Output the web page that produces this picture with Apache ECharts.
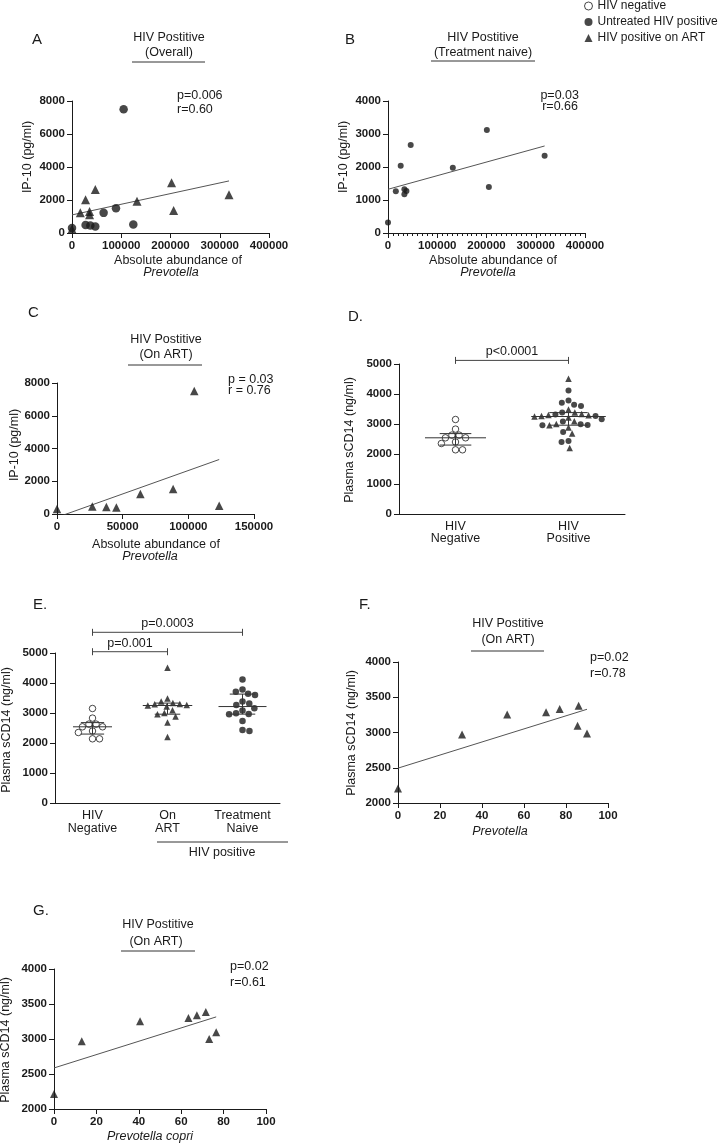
<!DOCTYPE html>
<html><head><meta charset="utf-8">
<script src="https://cdn.jsdelivr.net/npm/echarts@6/dist/echarts.min.js"></script>
<style>html,body{margin:0;padding:0;background:#fff}#c{width:722px;height:1146px}</style>
</head><body><div id="c"></div>
<script>
// ================= DATA =================
// Panel A – HIV positive overall (IP-10 vs Prevotella abundance)
const aUntreatedX = [0, 27600, 37200, 47300, 64200, 89300, 104800, 124500];
const aUntreatedY = [300, 490, 450, 390, 1220, 1500, 7500, 510];
const aArtX = [0, 16900, 27600, 35700, 35700, 47300, 132000, 202200, 206300, 318800];
const aArtY = [250, 1220, 2010, 1300, 1100, 2640, 1925, 3050, 1360, 2315];
// Panel B – treatment naive
const bNaiveX = [0, 15900, 25800, 33300, 33300, 37400, 46100, 131600, 200700, 204800, 318000];
const bNaiveY = [316, 1267, 2035, 1327, 1175, 1276, 2664, 1975, 3119, 1397, 2339];
// Panel C – on ART
const cArtX = [0, 26900, 37600, 45200, 63500, 88400, 104500, 123500];
const cArtY = [305, 464, 427, 403, 1221, 1527, 7511, 507];
// Panels D / E – plasma sCD14 (ng/ml)
const negSCD14 = [3150, 2830, 2630, 2630, 2540, 2540, 2400, 2350, 2140, 2140];
const artSCD14 = [4510, 3480, 3380, 3330, 3300, 3290, 3270, 3250, 3220, 3090, 3000, 2960, 2880, 2680, 2200];
const naiveSCD14 = [4120, 3780, 3710, 3640, 3600, 3380, 3320, 3270, 3160, 3080, 2990, 2970, 2960, 2730, 2430, 2400];
// Panel F – sCD14 vs Prevotella (on ART)
const fArtX = [0, 30.5, 52, 70.5, 77, 86, 85.5, 90];
const fArtY = [2205, 2973, 3257, 3286, 3333, 3380, 3095, 2987];
// Panel G – sCD14 vs Prevotella copri (on ART)
const gArtX = [0, 13.1, 40.6, 63.4, 67.4, 71.6, 73.2, 76.5];
const gArtY = [2214, 2969, 3254, 3300, 3339, 3386, 3001, 3097];
// Category / tick labels
const dCategories = ['HIV\nNegative', 'HIV\nPositive'];
const eCategories = ['HIV\nNegative', 'On\nART', 'Treatment\nNaive'];
const legendNames = ['HIV negative', 'Untreated HIV positive', 'HIV positive on ART'];
const dPValue = ['p<0.0001'];
const ePValues = ['p=0.001', 'p=0.0003'];

// ================= HELPERS =================
const FONT = '"Liberation Sans", Arial, Helvetica, sans-serif';
const INK = '#1a1a1a';
const zip = (xs, ys) => xs.map((x, i) => [x, ys[i]]);
function linreg(xs, ys) {
  const n = xs.length, mx = xs.reduce((a, b) => a + b) / n, my = ys.reduce((a, b) => a + b) / n;
  let sxy = 0, sxx = 0;
  xs.forEach((x, i) => { sxy += (x - mx) * (ys[i] - my); sxx += (x - mx) * (x - mx); });
  const b = sxy / sxx, a = my - b * mx;
  const x0 = Math.min(...xs), x1 = Math.max(...xs);
  return [[x0, a + b * x0], [x1, a + b * x1]];
}
// GraphPad-style quartiles (n+1 method)
function quant(vals, p) {
  const s = vals.slice().sort((a, b) => a - b), n = s.length;
  let pos = p * (n + 1);
  if (pos < 1) pos = 1; if (pos > n) pos = n;
  const lo = Math.floor(pos), f = pos - lo;
  return lo >= n ? s[n - 1] : s[lo - 1] + f * (s[lo] - s[lo - 1]);
}
// simple beeswarm: returns horizontal offsets in px
function swarm(values, pxPerUnit, size) {
  const order = values.map((v, i) => i).sort((a, b) => values[b] - values[a]);
  const placed = [], off = new Array(values.length).fill(0);
  let flip = 1;
  order.forEach(i => {
    const y = values[i] * pxPerUnit;
    const cands = [0];
    placed.forEach(p => {
      const dy = Math.abs(y - p.y);
      if (dy < size) { const dx = Math.sqrt(size * size - dy * dy); cands.push(p.x + dx, p.x - dx); }
    });
    cands.sort((a, b) => (Math.abs(a) - Math.abs(b)) || (a - b) * flip);
    let best = 0;
    for (const c of cands) {
      if (placed.every(p => (c - p.x) ** 2 + (y - p.y) ** 2 >= size * size - 0.01)) { best = c; break; }
    }
    if (best !== 0) flip = -flip;
    placed.push({ x: best, y }); off[i] = best;
  });
  return off;
}

// ================= LAYOUT =================
const grids = [
  { left: 72, top: 101, width: 197, height: 132 },   // A
  { left: 388, top: 101, width: 197, height: 132 },  // B
  { left: 57, top: 383, width: 197, height: 131 },   // C
  { left: 399, top: 364, width: 226, height: 150 },  // D
  { left: 55, top: 653, width: 225, height: 150 },   // E
  { left: 398, top: 662, width: 210, height: 141 },  // F
  { left: 54, top: 969, width: 212, height: 140 }    // G
].map(g => Object.assign({ outerBoundsMode: 'none', containLabel: false }, g));

const axLine = { show: true, onZero: false, lineStyle: { color: INK, width: 1 } };
const axTick = { show: true, length: 5, lineStyle: { color: INK, width: 1 } };
const axLabel = { color: INK, fontFamily: FONT, fontWeight: 'bold', fontSize: 11.5, margin: 7,
  formatter: v => String(v) };
function valAxis(gridIndex, min, max, interval, extra) {
  return Object.assign({
    type: 'value', gridIndex, min, max, interval, splitLine: { show: false },
    axisLine: axLine, axisTick: axTick, axisLabel: axLabel
  }, extra || {});
}

const xAxis = [
  valAxis(0, 0, 400000, 100000),
  valAxis(1, 0, 400000, 100000, { minorTick: { show: true, splitNumber: 10, length: 3, lineStyle: { color: INK } } }),
  valAxis(2, 0, 150000, 50000),
  { type: 'category', gridIndex: 3, data: dCategories, boundaryGap: true, axisLine: axLine, axisTick: { show: false },
    axisLabel: { color: INK, fontFamily: FONT, fontSize: 12.5, lineHeight: 12, margin: 7, interval: 0 } },
  { type: 'category', gridIndex: 4, data: eCategories, boundaryGap: true, axisLine: axLine, axisTick: { show: false },
    axisLabel: { color: INK, fontFamily: FONT, fontSize: 12.5, lineHeight: 13, margin: 6, interval: 0 } },
  valAxis(5, 0, 100, 20),
  valAxis(6, 0, 100, 20),
  { type: 'value', gridIndex: 3, min: -0.5, max: 1.5, show: false },
  { type: 'value', gridIndex: 4, min: -0.5, max: 2.5, show: false }
];
const yAxis = [
  valAxis(0, 0, 8000, 2000),
  valAxis(1, 0, 4000, 1000),
  valAxis(2, 0, 8000, 2000),
  valAxis(3, 0, 5000, 1000),
  valAxis(4, 0, 5000, 1000),
  valAxis(5, 2000, 4000, 500),
  valAxis(6, 2000, 4000, 500)
];

// ================= SERIES =================
const black = { color: INK };
const hollow = { color: '#fff', borderColor: INK, borderWidth: 1 };
function scatter(name, xi, yi, data, symbol, size, itemStyle) {
  return { type: 'scatter', name, xAxisIndex: xi, yAxisIndex: yi, data, symbol, symbolSize: size,
    itemStyle, silent: true, z: 3 };
}
function fitLine(xi, yi, pts) {
  return { type: 'line', xAxisIndex: xi, yAxisIndex: yi, data: pts, showSymbol: false, symbol: 'none',
    lineStyle: { color: '#555', width: 1 }, silent: true, clip: true, z: 2 };
}

// category swarm positions
const PX_PER_VAL = 150 / 5000;
function catPoints(values, cat, pxPerCat, offs) {
  return values.map((v, i) => [cat + offs[i] / pxPerCat, v]);
}
// D
const dNegOff = swarm(negSCD14, PX_PER_VAL, 7);
const dPosVals = artSCD14.concat(naiveSCD14);
const dPosOff = swarm(dPosVals, PX_PER_VAL, 7);
const dNegPts = catPoints(negSCD14, 0, 113, dNegOff);
const dPosPts = catPoints(dPosVals, 1, 113, dPosOff);
const dArtPts = dPosPts.slice(0, artSCD14.length);
const dNaivePts = dPosPts.slice(artSCD14.length);
// E
const eNegPts = catPoints(negSCD14, 0, 75, swarm(negSCD14, PX_PER_VAL, 7));
const eArtPts = catPoints(artSCD14, 1, 75, swarm(artSCD14, PX_PER_VAL, 7));
const eNaivePts = catPoints(naiveSCD14, 2, 75, swarm(naiveSCD14, PX_PER_VAL, 7));

function summary(vals, cx, hw, cw) {
  return [cx, quant(vals, 0.5), quant(vals, 0.25), quant(vals, 0.75), hw, cw];
}
function renderSummary(params, api) {
  const cx = api.value(0), med = api.value(1), q1 = api.value(2), q3 = api.value(3), hw = api.value(4), cw = api.value(5);
  const st = { stroke: '#333', lineWidth: 1 };
  const seg = (a, b) => ({ type: 'line', shape: { x1: a[0], y1: a[1], x2: b[0], y2: b[1] }, style: st });
  const p = (x, y) => api.coord([x, y]);
  return { type: 'group', children: [
    seg(p(cx - hw, med), p(cx + hw, med)),
    seg(p(cx, q1), p(cx, q3)),
    seg(p(cx - cw, q1), p(cx + cw, q1)),
    seg(p(cx - cw, q3), p(cx + cw, q3))
  ] };
}
function bracketSeries(xi, yi, items, labels) {
  return { type: 'custom', xAxisIndex: xi, yAxisIndex: yi, clip: false, silent: true, z: 4,
    data: items, renderItem: (params, api) => {
      const a = api.coord([api.value(0), api.value(2)]), b = api.coord([api.value(1), api.value(2)]);
      const st = { stroke: '#444', lineWidth: 1 };
      return { type: 'group', children: [
        { type: 'line', shape: { x1: a[0], y1: a[1], x2: b[0], y2: b[1] }, style: st },
        { type: 'line', shape: { x1: a[0], y1: a[1] - 3.5, x2: a[0], y2: a[1] + 3.5 }, style: st },
        { type: 'line', shape: { x1: b[0], y1: b[1] - 3.5, x2: b[0], y2: b[1] + 3.5 }, style: st },
        { type: 'text', x: (a[0] + b[0]) / 2, y: a[1] - 8.5,
          style: { text: labels[params.dataIndex], fill: INK, fontFamily: FONT, fontSize: 12.5,
            textAlign: 'center', textVerticalAlign: 'middle', align: 'center', verticalAlign: 'middle' } }
      ] };
    } };
}

const series = [
  // A
  scatter(legendNames[1], 0, 0, zip(aUntreatedX, aUntreatedY), 'circle', 8.5, black),
  scatter(legendNames[2], 0, 0, zip(aArtX, aArtY), 'triangle', 9, black),
  fitLine(0, 0, linreg(aUntreatedX.concat(aArtX), aUntreatedY.concat(aArtY))),
  // B
  scatter(legendNames[1], 1, 1, zip(bNaiveX, bNaiveY), 'circle', 6, black),
  fitLine(1, 1, linreg(bNaiveX, bNaiveY)),
  // C
  scatter(legendNames[2], 2, 2, zip(cArtX, cArtY), 'triangle', 8.5, black),
  fitLine(2, 2, linreg(cArtX, cArtY)),
  // D
  scatter(legendNames[0], 7, 3, dNegPts, 'circle', 6.5, hollow),
  scatter(legendNames[2], 7, 3, dArtPts, 'triangle', 6.5, black),
  scatter(legendNames[1], 7, 3, dNaivePts, 'circle', 6, black),
  { type: 'custom', xAxisIndex: 7, yAxisIndex: 3, renderItem: renderSummary, silent: true, z: 5,
    data: [summary(negSCD14, 0, 0.27, 0.14), summary(dPosVals, 1, 0.33, 0.17)] },
  bracketSeries(7, 3, [[0, 1, 5120]], dPValue),
  // E
  scatter(legendNames[0], 8, 4, eNegPts, 'circle', 6.5, hollow),
  scatter(legendNames[2], 8, 4, eArtPts, 'triangle', 6.5, black),
  scatter(legendNames[1], 8, 4, eNaivePts, 'circle', 6.5, black),
  { type: 'custom', xAxisIndex: 8, yAxisIndex: 4, renderItem: renderSummary, silent: true, z: 5,
    data: [summary(negSCD14, 0, 0.26, 0.155), summary(artSCD14, 1, 0.33, 0.17), summary(naiveSCD14, 2, 0.32, 0.17)] },
  bracketSeries(8, 4, [[0, 1, 5043], [0, 2, 5690]], ePValues),
  // F
  scatter(legendNames[2], 5, 5, zip(fArtX, fArtY), 'triangle', 8, black),
  fitLine(5, 5, linreg(fArtX, fArtY)),
  // G
  scatter(legendNames[2], 6, 6, zip(gArtX, gArtY), 'triangle', 8, black),
  fitLine(6, 6, linreg(gArtX, gArtY))
];

// ================= TEXT =================
function T(text, x, y, o) {
  o = o || {};
  const al = o.align || 'center';
  return { type: 'text', x, y, rotation: o.rot ? Math.PI / 2 : 0, silent: true, z: 10,
    style: { text, fill: INK, fontSize: o.size || 12.5, fontFamily: FONT, fontWeight: o.weight || 'normal',
      fontStyle: o.style || 'normal', textAlign: al, textVerticalAlign: 'middle', align: al, verticalAlign: 'middle' } };
}
function L(x1, y1, x2, y2) {
  return { type: 'line', silent: true, z: 10, shape: { x1, y1, x2, y2 }, style: { stroke: '#333', lineWidth: 1 } };
}
const left = { align: 'left' }, right = { align: 'right' }, rot = { rot: true }, ital = { style: 'italic' };
const P = { align: 'left', size: 15 };
const graphic = [
  // A
  T('A', 32, 40, P), T('HIV Postitive', 169, 38), T('(Overall)', 169, 53), L(132, 62, 205, 62),
  T('p=0.006', 177, 96, left), T('r=0.60', 177, 110, left),
  T('IP-10 (pg/ml)', 28, 157, rot), T('Absolute abundance of', 178, 261), T('Prevotella', 171, 273, ital),
  // B
  T('B', 345, 40, P), T('HIV Postitive', 483, 38), T('(Treatment naive)', 483, 53), L(431, 61, 535, 61),
  T('p=0.03', 579, 96, right), T('r=0.66', 578, 107, right),
  T('IP-10 (pg/ml)', 344, 157, rot), T('Absolute abundance of', 493, 261), T('Prevotella', 488, 273, ital),
  // C
  T('C', 28, 313, P), T('HIV Postitive', 166, 340), T('(On ART)', 166, 355), L(128, 365, 202, 365),
  T('p = 0.03', 228, 380, left), T('r = 0.76', 228, 391, left),
  T('IP-10 (pg/ml)', 15, 445, rot), T('Absolute abundance of', 156, 545), T('Prevotella', 150, 557, ital),
  // D
  T('D.', 348, 317, P), T('Plasma sCD14 (ng/ml)', 350, 440, rot),
  // E
  T('E.', 33, 605, P), T('Plasma sCD14 (ng/ml)', 7, 730, rot), L(157, 842, 288, 842), T('HIV positive', 222, 853),
  // F
  T('F.', 359, 605, P), T('HIV Postitive', 508, 624), T('(On ART)', 508, 640), L(471, 651, 544, 651),
  T('p=0.02', 590, 658, left), T('r=0.78', 590, 674, left),
  T('Plasma sCD14 (ng/ml)', 352, 733, rot), T('Prevotella', 500, 832, ital),
  // G
  T('G.', 33, 911, P), T('HIV Postitive', 158, 925), T('(On ART)', 156, 942), L(121, 951, 195, 951),
  T('p=0.02', 230, 967, left), T('r=0.61', 230, 983, left),
  T('Plasma sCD14 (ng/ml)', 6, 1040, rot), T('Prevotella copri', 150, 1137, ital)
];

const chart = echarts.init(document.getElementById('c'), null, { renderer: 'canvas' });
chart.setOption({
  animation: false,
  backgroundColor: '#fff',
  textStyle: { fontFamily: FONT },
  legend: {
    orient: 'vertical', left: 584, top: 0, padding: 0, itemGap: 4, itemWidth: 8, itemHeight: 8, selectedMode: false,
    textStyle: { fontFamily: FONT, fontSize: 12, color: INK },
    data: [
      { name: legendNames[0], icon: 'circle', itemStyle: hollow },
      { name: legendNames[1], icon: 'circle', itemStyle: black },
      { name: legendNames[2], icon: 'triangle', itemStyle: black }
    ]
  },
  grid: grids, xAxis, yAxis, series, graphic
});
</script></body></html>
